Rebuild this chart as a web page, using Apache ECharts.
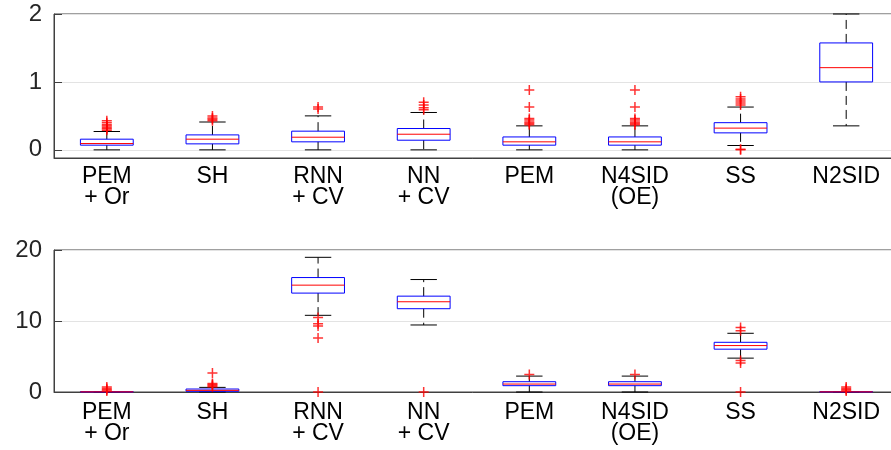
<!DOCTYPE html>
<html lang="en">
<head>
    <meta charset="UTF-8">
    <title>Boxplots</title>
    <script src="https://cdn.jsdelivr.net/npm/echarts@6/dist/echarts.min.js"></script>
    <style>
        * { margin: 0; padding: 0; }
        body { background: #fff; }
        #main { width: 891px; height: 450px; }
    </style>
</head>
<body>
    <div id="main"></div>
    <script>
        // categories (same for both panels)
        var categories = ['PEM\n+ Or', 'SH', 'RNN\n+ CV', 'NN\n+ CV', 'PEM', 'N4SID\n(OE)', 'SS', 'N2SID'];

        // top panel: whisker ends, quartiles, median
        var topLow = [0, 0, 0, 0, 0, 0, 0.064, 0.353];
        var topQ1 = [0.069, 0.088, 0.118, 0.142, 0.069, 0.069, 0.25, 1.0];
        var topMed = [0.093, 0.157, 0.186, 0.23, 0.118, 0.118, 0.32, 1.21];
        var topQ3 = [0.157, 0.22, 0.275, 0.314, 0.19, 0.19, 0.40, 1.574];
        var topHigh = [0.27, 0.41, 0.5, 0.55, 0.353, 0.353, 0.63, 2.0];
        var topOutliers = [
            [0.29, 0.31, 0.33, 0.35, 0.37, 0.40, 0.43],
            [0.43, 0.45, 0.47, 0.50],
            [0.60, 0.63],
            [0.59, 0.62, 0.66, 0.70],
            [0.37, 0.39, 0.41, 0.44, 0.46, 0.63, 0.88],
            [0.37, 0.39, 0.41, 0.44, 0.46, 0.63, 0.88],
            [0.0, 0.01, 0.66, 0.69, 0.72, 0.75, 0.78],
            []
        ];

        // bottom panel
        var botLow = [0, 0, 10.8, 9.44, 0, 0, 4.77, 0];
        var botQ1 = [0, 0.1, 13.93, 11.73, 0.89, 0.89, 6.03, 0];
        var botMed = [0.02, 0.23, 15.05, 12.71, 1.12, 1.12, 6.54, 0.02];
        var botQ3 = [0.05, 0.42, 16.12, 13.5, 1.45, 1.45, 7.0, 0.05];
        var botHigh = [0.05, 0.65, 18.97, 15.84, 2.24, 2.24, 8.27, 0.05];
        var botOutliers = [
            [0.15, 0.3, 0.5, 0.7],
            [0.75, 0.9, 1.05, 1.2, 2.66],
            [0, 7.6, 9.3, 9.6, 10.5],
            [0],
            [2.45],
            [2.45],
            [0, 4.07, 4.44, 8.64, 9.1],
            [0.15, 0.3, 0.5, 0.7]
        ];

        var textColor = '#262626';
        var axisColor = '#404040';
        var font = 'Liberation Sans';

        function boxRows(lo, q1, md, q3, hi) {
            return categories.map(function (c, i) {
                return [i, lo[i], q1[i], md[i], q3[i], hi[i]];
            });
        }

        function outlierRows(list) {
            var rows = [];
            list.forEach(function (vals, i) {
                vals.forEach(function (v) { rows.push([i, v]); });
            });
            return rows;
        }

        function renderBox(params, api) {
            var i = api.value(0);
            var lo = api.coord([i, api.value(1)]);
            var q1 = api.coord([i, api.value(2)]);
            var md = api.coord([i, api.value(3)]);
            var q3 = api.coord([i, api.value(4)]);
            var hi = api.coord([i, api.value(5)]);
            var w = api.size([1, 0])[0] * 0.5;
            var x = lo[0];
            var dash = { stroke: '#000', lineWidth: 1, lineDash: [9, 5] };
            var solid = { stroke: '#000', lineWidth: 1 };
            return {
                type: 'group',
                children: [
                    { type: 'line', shape: { x1: x, y1: q3[1], x2: x, y2: hi[1] }, style: dash },
                    { type: 'line', shape: { x1: x, y1: q1[1], x2: x, y2: lo[1] }, style: dash },
                    { type: 'line', shape: { x1: x - w / 4, y1: hi[1], x2: x + w / 4, y2: hi[1] }, style: solid },
                    { type: 'line', shape: { x1: x - w / 4, y1: lo[1], x2: x + w / 4, y2: lo[1] }, style: solid },
                    {
                        type: 'rect',
                        shape: { x: x - w / 2, y: q3[1], width: w, height: q1[1] - q3[1] },
                        style: { fill: 'none', stroke: '#0000ff', lineWidth: 1 }
                    },
                    { type: 'line', shape: { x1: x - w / 2, y1: md[1], x2: x + w / 2, y2: md[1] }, style: { stroke: '#ff0000', lineWidth: 1 } }
                ]
            };
        }

        function makeX(gridIndex, margin) {
            return {
                type: 'category', gridIndex: gridIndex, data: categories, boundaryGap: true,
                axisLine: { onZero: false, lineStyle: { color: axisColor, width: 1 } },
                axisTick: { show: false },
                axisLabel: {
                    interval: 0, margin: margin, color: '#000', fontFamily: font,
                    fontSize: 23, lineHeight: 21
                },
                splitLine: { show: false }
            };
        }

        var plus = 'path://M0,5L10,5M5,0L5,10';
        function makeOutliers(idx, list) {
            return {
                type: 'scatter', xAxisIndex: idx, yAxisIndex: idx,
                data: outlierRows(list), symbol: plus, symbolSize: 10,
                itemStyle: { color: 'none', borderColor: '#ff0000', borderWidth: 1.5 },
                z: 5, silent: true
            };
        }

        var chart = echarts.init(document.getElementById('main'));
        chart.setOption({
            animation: false,
            backgroundColor: '#fff',
            grid: [
                { left: 54, top: 14, width: 845, height: 144, outerBoundsMode: 'none', show: true, borderColor: axisColor, borderWidth: 1 },
                { left: 54, top: 250, width: 845, height: 142, outerBoundsMode: 'none', show: true, borderColor: axisColor, borderWidth: 1 }
            ],
            xAxis: [makeX(0, 8), makeX(1, 10)],
            yAxis: [
                {
                    type: 'value', gridIndex: 0, min: -0.12, max: 2,
                    axisLine: { show: true, lineStyle: { color: axisColor } },
                    axisTick: { show: true, inside: true, length: 8, lineStyle: { color: axisColor }, customValues: [0, 1, 2] },
                    axisLabel: { customValues: [0, 1, 2], margin: 12, color: textColor, fontFamily: font, fontSize: 24 },
                    splitLine: { show: true, lineStyle: { color: '#e3e3e3' } }
                },
                {
                    type: 'value', gridIndex: 1, min: 0, max: 20, interval: 10,
                    axisLine: { show: true, lineStyle: { color: axisColor } },
                    axisTick: { show: true, inside: true, length: 8, lineStyle: { color: axisColor } },
                    axisLabel: { margin: 12, color: textColor, fontFamily: font, fontSize: 24 },
                    splitLine: { show: true, lineStyle: { color: '#e3e3e3' } }
                }
            ],
            series: [
                {
                    type: 'custom', xAxisIndex: 0, yAxisIndex: 0, renderItem: renderBox,
                    data: boxRows(topLow, topQ1, topMed, topQ3, topHigh),
                    encode: { x: 0, y: [1, 2, 3, 4, 5] }, z: 3, silent: true
                },
                makeOutliers(0, topOutliers),
                {
                    type: 'custom', xAxisIndex: 1, yAxisIndex: 1, renderItem: renderBox,
                    data: boxRows(botLow, botQ1, botMed, botQ3, botHigh),
                    encode: { x: 0, y: [1, 2, 3, 4, 5] }, z: 3, silent: true
                },
                makeOutliers(1, botOutliers)
            ]
        });
    </script>
</body>
</html>
